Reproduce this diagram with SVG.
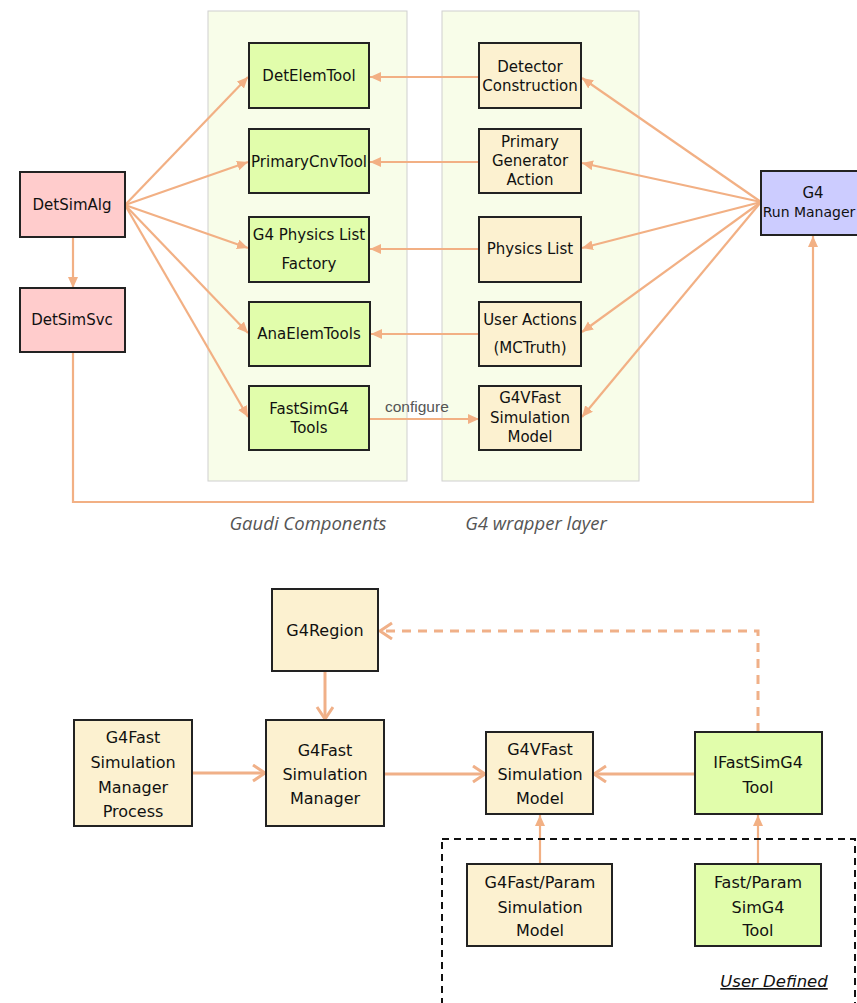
<svg xmlns="http://www.w3.org/2000/svg" width="857" height="1003" viewBox="0 0 857 1003">
  <style>
    .panel { fill: #f8fde9; stroke: #cfcfcf; stroke-width: 1; }
    .box { stroke: #222; stroke-width: 2; }
    .green { fill: #e1fdab; }
    .cream { fill: #fcf1d0; }
    .pink { fill: #ffcccc; }
    .blue { fill: #ccccff; }
    .t { font-family: "DejaVu Sans", sans-serif; font-size: 15px; fill: #111; text-anchor: middle; }
    .tb { font-family: "DejaVu Sans", sans-serif; font-size: 16px; fill: #111; text-anchor: middle; }
    .cap { font-family: "Open Sans", sans-serif; font-style: italic; font-size: 18.5px; fill: #555; text-anchor: middle; }
    .lbl { font-family: "Liberation Sans", sans-serif; font-size: 15.5px; fill: #555; }
    .wire { fill: none; stroke: #f2b084; stroke-width: 2.2; }
    .wire2 { fill: none; stroke: #f0b088; stroke-width: 3; }
    .dash { stroke-dasharray: 9 7; }
  </style>
  <defs>
    <marker id="tri" markerUnits="userSpaceOnUse" markerWidth="12" markerHeight="12" refX="11" refY="5" orient="auto">
      <path d="M0,0 L11,5 L0,10 z" fill="#f2b084"/>
    </marker>
    <marker id="chev" markerUnits="userSpaceOnUse" markerWidth="16" markerHeight="20" refX="13" refY="9" orient="auto">
      <path d="M1,1 L13,9 L1,17" fill="none" stroke="#f0b088" stroke-width="3"/>
    </marker>
  </defs>

  <rect width="857" height="1003" fill="#fff"/>

  <!-- layer panels -->
  <rect class="panel" x="208" y="11" width="199" height="470"/>
  <rect class="panel" x="442" y="11" width="197" height="470"/>
  <text class="cap" x="308" y="530">Gaudi Components</text>
  <text class="cap" x="536" y="530">G4 wrapper layer</text>

  <!-- connectors -->
  <g id="connectors">
    <!-- DetSimAlg to Gaudi tools -->
    <line class="wire" x1="125" y1="205" x2="248" y2="77" marker-end="url(#tri)"/>
    <line class="wire" x1="125" y1="205" x2="248" y2="162" marker-end="url(#tri)"/>
    <line class="wire" x1="125" y1="205" x2="248" y2="248" marker-end="url(#tri)"/>
    <line class="wire" x1="125" y1="205" x2="248" y2="333" marker-end="url(#tri)"/>
    <line class="wire" x1="125" y1="205" x2="248" y2="417" marker-end="url(#tri)"/>
    <line class="wire" x1="73" y1="237" x2="73" y2="288" marker-end="url(#tri)"/>
    <!-- wrapper to tools -->
    <line class="wire" x1="479" y1="77" x2="370" y2="77" marker-end="url(#tri)"/>
    <line class="wire" x1="479" y1="162" x2="370" y2="162" marker-end="url(#tri)"/>
    <line class="wire" x1="479" y1="249" x2="370" y2="249" marker-end="url(#tri)"/>
    <line class="wire" x1="479" y1="334" x2="371" y2="334" marker-end="url(#tri)"/>
    <line class="wire" x1="370" y1="419" x2="479" y2="419" marker-end="url(#tri)"/>
    <text class="lbl" x="385" y="412">configure</text>
    <!-- run manager to wrapper -->
    <line class="wire" x1="761" y1="202" x2="582" y2="78" marker-end="url(#tri)"/>
    <line class="wire" x1="761" y1="202" x2="582" y2="163" marker-end="url(#tri)"/>
    <line class="wire" x1="761" y1="202" x2="582" y2="248" marker-end="url(#tri)"/>
    <line class="wire" x1="761" y1="202" x2="582" y2="332" marker-end="url(#tri)"/>
    <line class="wire" x1="761" y1="202" x2="582" y2="417" marker-end="url(#tri)"/>
    <!-- DetSimSvc to run manager -->
    <polyline class="wire" points="73,352 73,502 813,502 813,236" marker-end="url(#tri)"/>

    <!-- fast simulation block -->
    <line class="wire2" x1="325" y1="671" x2="325" y2="719" marker-end="url(#chev)"/>
    <line class="wire2" x1="192" y1="773" x2="265" y2="773" marker-end="url(#chev)"/>
    <line class="wire2" x1="384" y1="774" x2="485" y2="774" marker-end="url(#chev)"/>
    <line class="wire2" x1="695" y1="774" x2="594" y2="774" marker-end="url(#chev)"/>
    <polyline class="wire2 dash" points="758,732 758,631 380,631" marker-end="url(#chev)"/>
    <line class="wire" x1="540" y1="864" x2="540" y2="815" marker-end="url(#tri)"/>
    <line class="wire" x1="758" y1="864" x2="758" y2="815" marker-end="url(#tri)"/>
  </g>

  <!-- Gaudi side -->
  <g id="DetSimAlg"><rect class="box pink" x="20" y="172" width="105" height="65"/><text class="t" x="72" y="210">DetSimAlg</text></g>
  <g id="DetSimSvc"><rect class="box pink" x="20" y="288" width="105" height="64"/><text class="t" x="72" y="325">DetSimSvc</text></g>
  <g id="DetElemTool"><rect class="box green" x="249" y="43" width="120" height="65"/><text class="t" x="309" y="81">DetElemTool</text></g>
  <g id="PrimaryCnvTool"><rect class="box green" x="249" y="129" width="120" height="64"/><text class="t" x="309" y="167">PrimaryCnvTool</text></g>
  <g id="PhysicsListFactory"><rect class="box green" x="249" y="217" width="120" height="65"/><text class="t" x="309" y="240">G4 Physics List</text><text class="t" x="309" y="269">Factory</text></g>
  <g id="AnaElemTools"><rect class="box green" x="249" y="302" width="121" height="64"/><text class="t" x="309" y="339">AnaElemTools</text></g>
  <g id="FastSimG4Tools"><rect class="box green" x="249" y="386" width="120" height="64"/><text class="t" x="309" y="414">FastSimG4</text><text class="t" x="309" y="433">Tools</text></g>

  <!-- G4 wrapper side -->
  <g id="DetectorConstruction"><rect class="box cream" x="479" y="43" width="102" height="65"/><text class="t" x="530" y="72">Detector</text><text class="t" x="530" y="91">Construction</text></g>
  <g id="PrimaryGeneratorAction"><rect class="box cream" x="479" y="129" width="102" height="64"/><text class="t" x="530" y="147">Primary</text><text class="t" x="530" y="166">Generator</text><text class="t" x="530" y="185">Action</text></g>
  <g id="PhysicsList"><rect class="box cream" x="479" y="217" width="102" height="65"/><text class="t" x="530" y="254">Physics List</text></g>
  <g id="UserActions"><rect class="box cream" x="479" y="302" width="102" height="64"/><text class="t" x="530" y="325">User Actions</text><text class="t" x="530" y="353">(MCTruth)</text></g>
  <g id="G4VFastTop"><rect class="box cream" x="479" y="386" width="102" height="64"/><text class="t" x="530" y="403">G4VFast</text><text class="t" x="530" y="423">Simulation</text><text class="t" x="530" y="442">Model</text></g>
  <g id="RunManager"><rect class="box blue" x="761" y="171" width="104" height="64"/><text class="t" x="813" y="198">G4</text><text class="t" x="809" y="217" style="font-size:14px">Run Manager</text></g>

  <!-- fast simulation nodes -->
  <g id="G4Region"><rect class="box cream" x="272" y="589" width="106" height="82"/><text class="tb" x="325" y="636">G4Region</text></g>
  <g id="ManagerProcess"><rect class="box cream" x="74" y="720" width="118" height="106"/><text class="tb" x="133" y="743">G4Fast</text><text class="tb" x="133" y="768">Simulation</text><text class="tb" x="133" y="793">Manager</text><text class="tb" x="133" y="817">Process</text></g>
  <g id="Manager"><rect class="box cream" x="266" y="720" width="118" height="106"/><text class="tb" x="325" y="756">G4Fast</text><text class="tb" x="325" y="780">Simulation</text><text class="tb" x="325" y="804">Manager</text></g>
  <g id="G4VFastModel"><rect class="box cream" x="486" y="732" width="107" height="82"/><text class="tb" x="540" y="755">G4VFast</text><text class="tb" x="540" y="780">Simulation</text><text class="tb" x="540" y="804">Model</text></g>
  <g id="IFastSimG4Tool"><rect class="box green" x="695" y="732" width="127" height="82"/><text class="tb" x="758" y="768">IFastSimG4</text><text class="tb" x="758" y="793">Tool</text></g>

  <!-- user defined region -->
  <g id="UserDefined">
    <rect x="442" y="839" width="413" height="180" fill="none" stroke="#111" stroke-width="2" stroke-dasharray="7 5"/>
    <text x="774" y="987" font-family="DejaVu Sans, sans-serif" font-style="italic" font-size="16.5px" fill="#111" text-anchor="middle" text-decoration="underline">User Defined</text>
  </g>
  <g id="ParamModel"><rect class="box cream" x="467" y="864" width="145" height="82"/><text class="tb" x="540" y="888">G4Fast/Param</text><text class="tb" x="540" y="913">Simulation</text><text class="tb" x="540" y="936">Model</text></g>
  <g id="ParamTool"><rect class="box green" x="695" y="864" width="126" height="82"/><text class="tb" x="758" y="888">Fast/Param</text><text class="tb" x="758" y="913">SimG4</text><text class="tb" x="758" y="936">Tool</text></g>
</svg>
